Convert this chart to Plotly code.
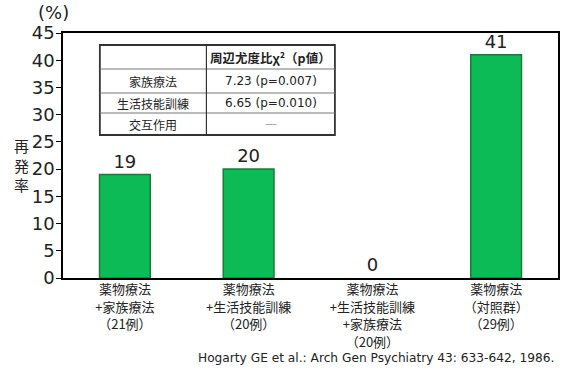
import plotly.graph_objects as go

category_lines = [["薬物療法", "+家族療法", "（21例）"],
                  ["薬物療法", "+生活技能訓練", "（20例）"],
                  ["薬物療法", "+生活技能訓練", "+家族療法", "（20例）"],
                  ["薬物療法", "（対照群）", "（29例）"]]
relapse_rates = [19, 20, 0, 41]
y_ticks = [0, 5, 10, 15, 20, 25, 30, 35, 40, 45]

table_header = ["", "<b>周辺尤度比χ²（p値）</b>"]
table_rows = ["家族療法", "生活技能訓練", "交互作用"]
table_values = ["7.23 (p=0.007)", "6.65 (p=0.010)", "—"]

categories = ["<br>".join('<span style="font-size:13px">%s</span>' % s for s in lines)
              for lines in category_lines]

FONT = "DejaVu Sans, Noto Sans CJK JP, sans-serif"
JFONT = "Noto Sans CJK JP, DejaVu Sans, sans-serif"

fig = go.Figure()
fig.add_trace(go.Bar(
    x=categories, y=relapse_rates, width=0.41,
    marker=dict(color="#0cbb55",
                line=dict(color="#1b7a3c", width=[1.5 if v > 0 else 0 for v in relapse_rates])),
    text=[str(v) for v in relapse_rates], textposition="outside",
    textfont=dict(family=FONT, size=18, color="#222"),
    cliponaxis=False,
))

fig.update_layout(
    width=567, height=373,
    margin=dict(l=63, r=7, t=33, b=95),
    plot_bgcolor="white", paper_bgcolor="white",
    showlegend=False,
    font=dict(family=FONT, color="#222"),
)
fig.update_yaxes(range=[0, 45], tickvals=y_ticks, ticks="outside", ticklen=5,
                 tickcolor="black", showline=True, linecolor="black", linewidth=1.5,
                 mirror=True, showgrid=False, zeroline=False, ticklabelstandoff=-2,
                 tickfont=dict(family=FONT, size=18, color="#222"))
fig.update_xaxes(showline=True, linecolor="black", linewidth=1.5, mirror=True,
                 ticks="", ticklabelstandoff=-2,
                 tickfont=dict(family=JFONT, size=13.5, color="#222"))

# Axis labels
fig.add_annotation(text="(%)", xref="paper", yref="paper", x=(53-63)/497, y=(278-13)/245,
                   xanchor="center", yanchor="middle",
                   showarrow=False, font=dict(family=FONT, size=18, color="#222"))
fig.add_annotation(text="再<br>発<br>率", xref="paper", yref="paper", x=(21-63)/497,
                   y=(278-165)/245, xanchor="center", yanchor="middle",
                   showarrow=False, font=dict(family=JFONT, size=15, color="#222"))
fig.add_annotation(text="Hogarty GE et al.: Arch Gen Psychiatry 43: 633-642, 1986.",
                   xref="paper", yref="paper", x=(558-63)/497, y=(278-358)/245,
                   xanchor="right", yanchor="middle",
                   showarrow=False, font=dict(family=FONT, size=12.2, color="#222"))

# Table
x0, xd, x1 = (100-63)/497, (207-63)/497, (336-63)/497
def py(p):
    return (278 - p) / 245
ys = [py(45), py(69), py(93), py(113), py(135)]
fig.add_shape(type="rect", xref="paper", yref="paper", x0=x0, x1=x1, y0=ys[-1], y1=ys[0],
              line=dict(color="#333", width=1.8), fillcolor="white", layer="above")
for yv in ys[1:-1]:
    fig.add_shape(type="line", xref="paper", yref="paper", x0=x0, x1=x1, y0=yv, y1=yv,
                  line=dict(color="#777", width=1), layer="above")
fig.add_shape(type="line", xref="paper", yref="paper", x0=xd, x1=xd, y0=ys[-1], y1=ys[0],
              line=dict(color="#333", width=1.2), layer="above")
fig.add_annotation(text=table_header[1], xref="paper", yref="paper",
                   x=(xd+x1)/2, y=(ys[0]+ys[1])/2, showarrow=False,
                   xanchor="center", yanchor="middle",
                   font=dict(family=JFONT, size=12.5, color="#222"))
for i, (r, v) in enumerate(zip(table_rows, table_values)):
    yc = (ys[i+1] + ys[i+2]) / 2
    fig.add_annotation(text=r, xref="paper", yref="paper", x=(x0+xd)/2, y=yc,
                       xanchor="center", yanchor="middle",
                       showarrow=False, font=dict(family=JFONT, size=12, color="#222"))
    fig.add_annotation(text=v, xref="paper", yref="paper", x=(xd+x1)/2, y=yc,
                       xanchor="center", yanchor="middle", showarrow=False,
                       font=dict(family=FONT, size=12, color="#aaa" if v == "—" else "#222"))

fig.write_html("out.html", config={"displayModeBar": False},
               post_script="document.body.style.margin='0';")
